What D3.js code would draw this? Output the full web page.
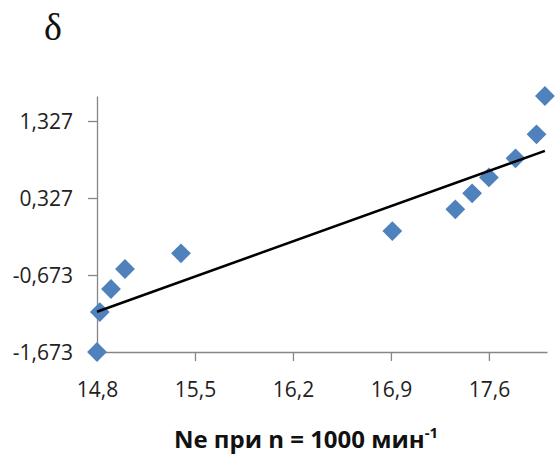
<!DOCTYPE html>
<html><head><meta charset="utf-8">
<script src="https://cdn.jsdelivr.net/npm/d3@7/dist/d3.min.js"></script>
<style>body{margin:0;background:#fff}</style>
</head><body>
<script>
const xValues = [14.8, 14.82, 14.90, 15.0, 15.40, 16.91, 17.36, 17.48, 17.60, 17.79, 17.94, 18.0];
const yValues = [-1.673, -1.154, -0.855, -0.595, -0.391, -0.102, 0.180, 0.388, 0.595, 0.843, 1.154, 1.652];
const trendX = [14.8, 18.0];
const trendY = [-1.15, 0.94];
const xTicks = [14.8, 15.5, 16.2, 16.9, 17.6];
const yTicks = [-1.673, -0.673, 0.327, 1.327];
const xTitle = "Ne при n = 1000 мин";
const xTitleSup = "-1";
const yTitle = "δ";

const W = 555, H = 455;
const svg = d3.select("body").append("svg").attr("width", W).attr("height", H);

const x = d3.scaleLinear().domain([14.8, 18.015]).range([97, 547]);
const y = d3.scaleLinear().domain([-1.673, 1.652]).range([352, 96]);

const xAxis = d3.axisBottom(x).tickValues(xTicks).tickSize(9).tickSizeOuter(0)
  .tickFormat(d => d.toFixed(1).replace(".", ","));
const yAxis = d3.axisLeft(y).tickValues(yTicks).tickSize(9).tickSizeOuter(0)
  .tickFormat(d => d.toFixed(3).replace(".", ","));

const gx = svg.append("g").attr("transform", "translate(0,352)").call(xAxis);
const gy = svg.append("g").attr("transform", "translate(97,0)").call(yAxis);
[gx, gy].forEach(g => {
  g.select(".domain").attr("stroke", "#868686").attr("stroke-width", 1.3);
  g.selectAll(".tick line").attr("stroke", "#868686").attr("stroke-width", 1.3);
  g.selectAll(".tick text").attr("fill", "#222").style("font-family", "'Open Sans', sans-serif").style("font-size", "21px");
});
gx.selectAll(".tick text").attr("dy", 0).attr("y", 45);
gy.selectAll(".tick text").attr("x", -24).attr("dy", "0.36em");

// points
const pts = xValues.map((v, i) => ({x: v, y: yValues[i]}));
const sym = d3.symbol().type(d3.symbolDiamond2).size(250);
svg.append("g").selectAll("path").data(pts).join("path")
  .attr("d", sym)
  .attr("transform", d => `translate(${x(d.x)},${y(d.y)})`)
  .attr("fill", "#4F81BD");

// trend line (drawn over points)
svg.append("line")
  .attr("x1", x(trendX[0])).attr("y1", y(trendY[0]))
  .attr("x2", x(trendX[1])).attr("y2", y(trendY[1]))
  .attr("stroke", "#000").attr("stroke-width", 2.5);

// titles
const t = svg.append("text").attr("x", 306).attr("y", 448).attr("text-anchor", "middle")
  .style("font-family", "'Open Sans', sans-serif").style("font-size", "24px").style("font-weight", "bold").attr("fill", "#111")
  .text(xTitle);
t.append("tspan").attr("dy", -10).style("font-size", "15px").text(xTitleSup);

svg.append("text").attr("x", 53).attr("y", 40).attr("text-anchor", "middle")
  .style("font-family", "'Liberation Serif', serif").style("font-size", "38px").attr("fill", "#111")
  .text(yTitle);
</script>
</body></html>
